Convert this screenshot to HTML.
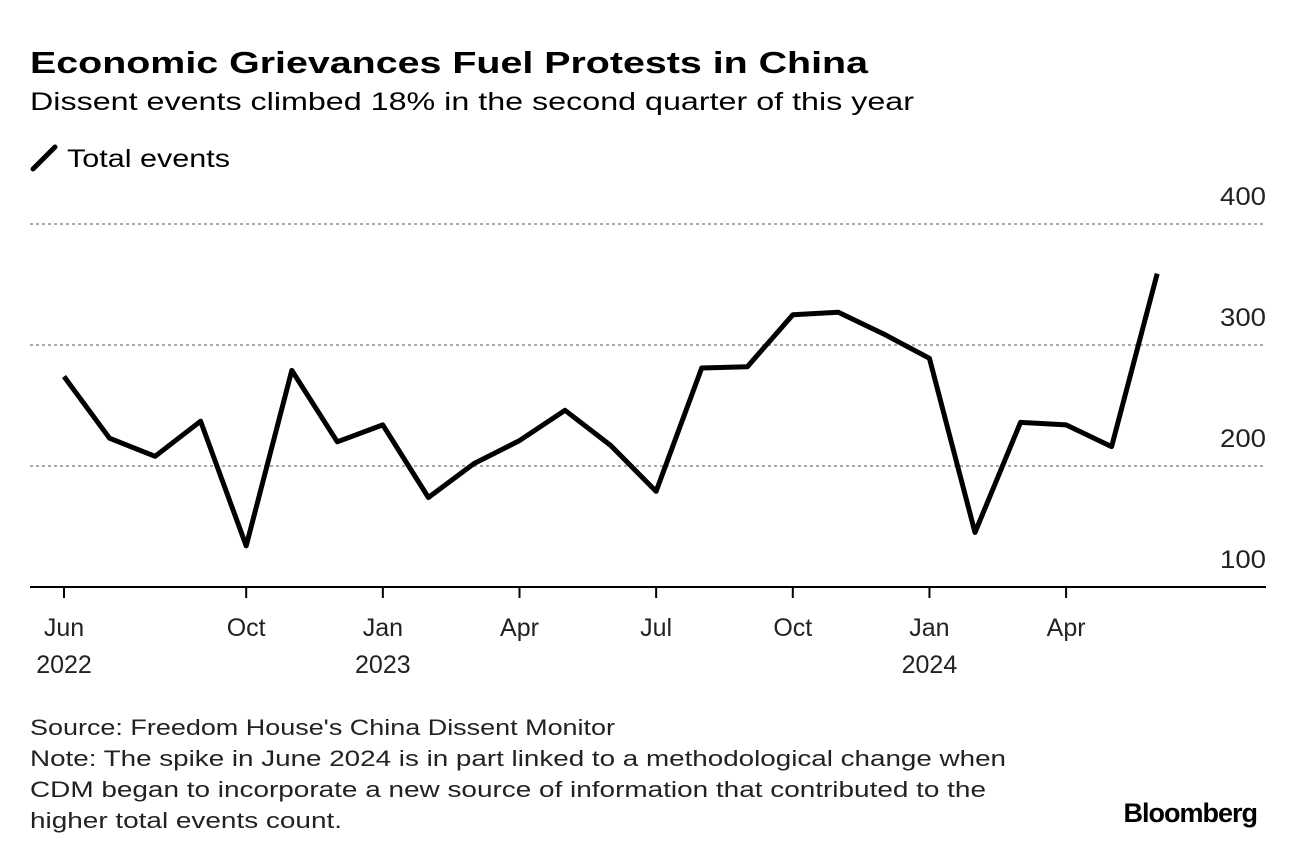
<!DOCTYPE html>
<html><head><meta charset="utf-8"><style>
body{margin:0;background:#fff;width:1296px;height:858px;overflow:hidden;font-family:"Liberation Sans",sans-serif;color:#000}
svg{position:absolute;left:0;top:0}
</style></head><body>
<svg width="1296" height="858">
<text x="30" y="73" font-size="31" font-weight="bold" textLength="838" lengthAdjust="spacingAndGlyphs">Economic Grievances Fuel Protests in China</text>
<text x="30" y="110" font-size="25" textLength="884" lengthAdjust="spacingAndGlyphs">Dissent events climbed 18% in the second quarter of this year</text>
<line x1="33" y1="169" x2="55" y2="147" stroke="#000" stroke-width="5" stroke-linecap="round"/>
<text x="67" y="167" font-size="25" textLength="163" lengthAdjust="spacingAndGlyphs">Total events</text>
<g id="grid"></g><g id="xaxis"></g>
<path id="line" fill="none" stroke="#000" stroke-width="5" stroke-linejoin="round"/>
<text x="30" y="735" font-size="22" fill="#222" textLength="585" lengthAdjust="spacingAndGlyphs">Source: Freedom House's China Dissent Monitor</text>
<text x="30" y="766" font-size="22" fill="#222" textLength="976" lengthAdjust="spacingAndGlyphs">Note: The spike in June 2024 is in part linked to a methodological change when</text>
<text x="30" y="797" font-size="22" fill="#222" textLength="956" lengthAdjust="spacingAndGlyphs">CDM began to incorporate a new source of information that contributed to the</text>
<text x="30" y="828" font-size="22" fill="#222" textLength="312" lengthAdjust="spacingAndGlyphs">higher total events count.</text>
<text x="1257" y="822" font-size="27" font-weight="bold" text-anchor="end" letter-spacing="-1">Bloomberg</text>
</svg>
<script>
const values=[274,223,208,237,134,279,220,234,174,202,221,246,217,179,281,282,325,327,309,289,145,236,234,216,359];
const yTicks=[100,200,300,400];
const xTickIdx=[0,4,7,10,13,16,19,22];
const xTickLabels=[["Jun","2022"],["Oct",""],["Jan","2023"],["Apr",""],["Jul",""],["Oct",""],["Jan","2024"],["Apr",""]];
const NS="http://www.w3.org/2000/svg";
const x=i=>64+i*45.55;
const y=v=>224+(400-v)*1.21;
const grid=document.getElementById('grid');
yTicks.forEach(t=>{
  if(t>100){const l=document.createElementNS(NS,'line');
  l.setAttribute('x1',30);l.setAttribute('x2',1266);l.setAttribute('y1',y(t));l.setAttribute('y2',y(t));
  l.setAttribute('stroke','#aaa');l.setAttribute('stroke-width',2);l.setAttribute('stroke-dasharray','3,3');
  
  
  grid.appendChild(l);}
  const tx=document.createElementNS(NS,'text');
  tx.setAttribute('x',1266);tx.setAttribute('y',y(t)-19);tx.setAttribute('text-anchor','end');tx.setAttribute('font-size',25);tx.setAttribute('fill','#222');
  tx.setAttribute('textLength',46);tx.setAttribute('lengthAdjust','spacingAndGlyphs');
  tx.textContent=t;
  
  
  grid.appendChild(tx);
});
const xa=document.getElementById('xaxis');
const base=document.createElementNS(NS,'line');
base.setAttribute('x1',30);base.setAttribute('x2',1266);base.setAttribute('y1',587);base.setAttribute('y2',587);base.setAttribute('stroke','#000');base.setAttribute('stroke-width',2);


xa.appendChild(base);
xTickIdx.forEach((i,k)=>{
  const t=document.createElementNS(NS,'line');
  t.setAttribute('x1',x(i));t.setAttribute('x2',x(i));t.setAttribute('y1',587);t.setAttribute('y2',598);t.setAttribute('stroke','#000');t.setAttribute('stroke-width',2);
  
  
  xa.appendChild(t);
  xTickLabels[k].forEach((s,j)=>{if(!s)return;
    const tx=document.createElementNS(NS,'text');
    tx.setAttribute('x',x(i));tx.setAttribute('y',636+j*37);tx.setAttribute('text-anchor','middle');tx.setAttribute('font-size',25);tx.setAttribute('fill','#222');
    tx.textContent=s;
    
    
    xa.appendChild(tx);});
});
document.getElementById('line').setAttribute('d',values.map((v,i)=>(i?'L':'M')+x(i).toFixed(1)+','+y(v).toFixed(1)).join(''));
</script>
</body></html>
